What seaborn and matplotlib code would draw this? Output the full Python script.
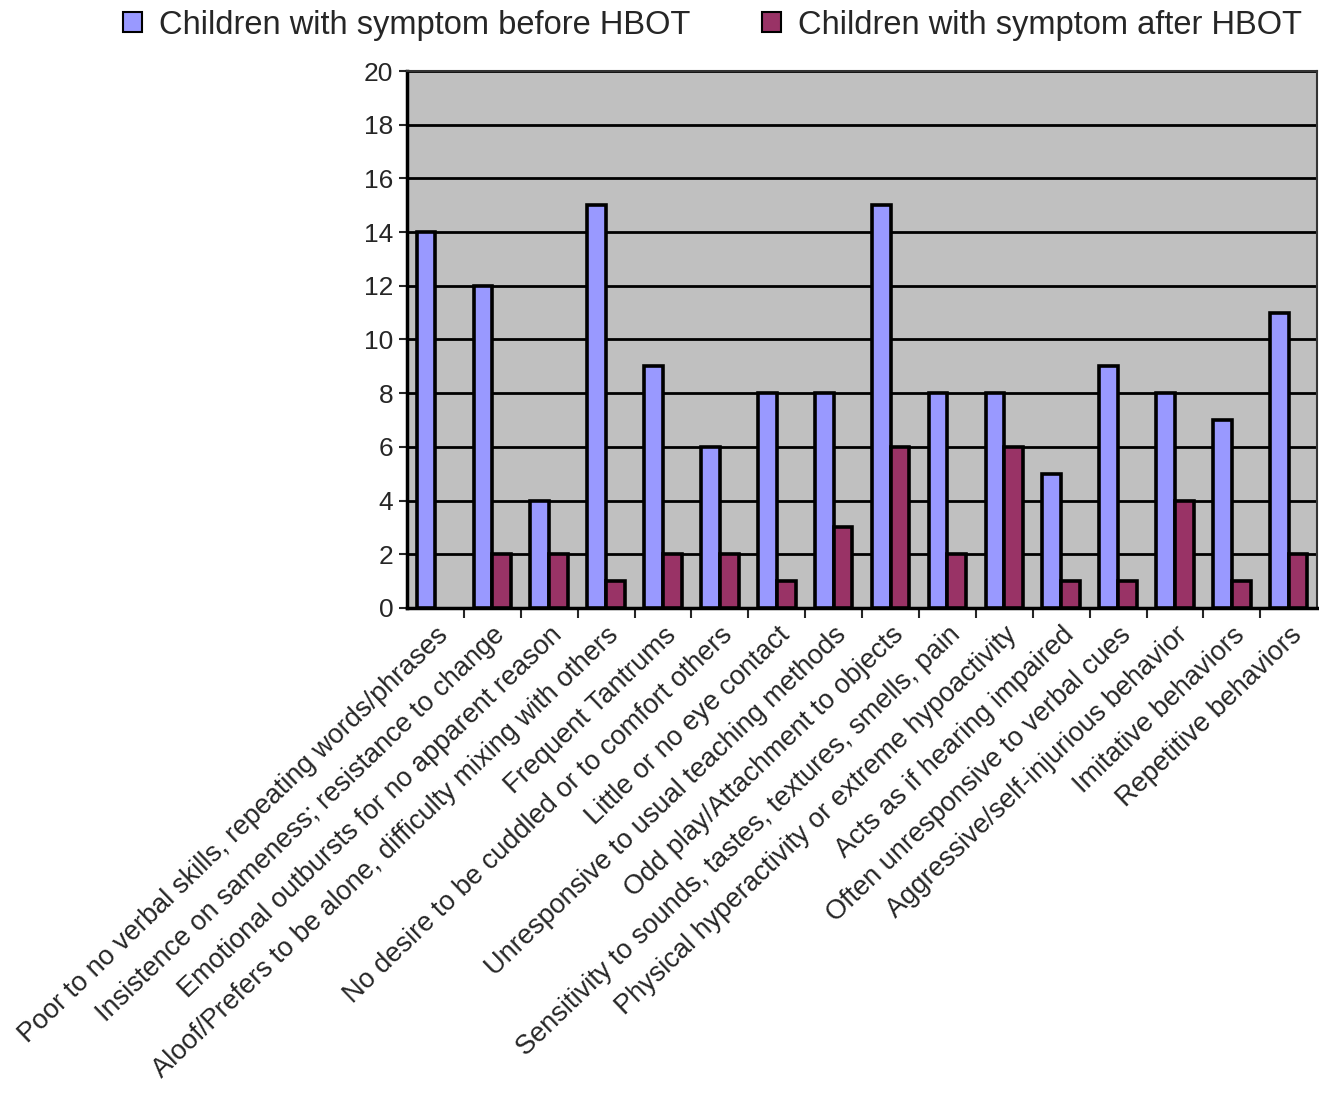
import numpy as np
import pandas as pd
import matplotlib
matplotlib.use("Agg")
import matplotlib.pyplot as plt
import seaborn as sns

# Data
symptoms = [
    "Poor to no verbal skills, repeating words/phrases",
    "Insistence on sameness; resistance to change",
    "Emotional outbursts for no apparent reason",
    "Aloof/Prefers to be alone, difficulty mixing with others",
    "Frequent Tantrums",
    "No desire to be cuddled or to comfort others",
    "Little or no eye contact",
    "Unresponsive to usual teaching methods",
    "Odd play/Attachment to objects",
    "Sensitivity to sounds, tastes, textures, smells, pain",
    "Physical hyperactivity or extreme hypoactivity",
    "Acts as if hearing impaired",
    "Often unresponsive to verbal cues",
    "Aggressive/self-injurious behavior",
    "Imitative behaviors",
    "Repetitive behaviors",
]
before_hbot = [14, 12, 4, 15, 9, 6, 8, 8, 15, 8, 8, 5, 9, 8, 7, 11]
after_hbot = [0, 2, 2, 1, 2, 2, 1, 3, 6, 2, 6, 1, 1, 4, 1, 2]
series_names = ["Children with symptom before HBOT", "Children with symptom after HBOT"]
palette = ["#9999FF", "#993366"]

df = pd.DataFrame({
    "symptom": symptoms * 2,
    "count": before_hbot + after_hbot,
    "series": [series_names[0]] * len(symptoms) + [series_names[1]] * len(symptoms),
})

sns.set_style("white")
plt.rcParams["font.family"] = ["Liberation Sans", "DejaVu Sans"]

fig = plt.figure(figsize=(13.19, 11.01), dpi=100)
ax = fig.add_axes([0.3086, 0.4478, 0.690, 0.4877])
ax.set_facecolor("#C0C0C0")

sns.barplot(data=df, x="symptom", y="count", hue="series", palette=palette,
            saturation=1, width=0.66, edgecolor="black", linewidth=2.6, ax=ax,
            legend=False, zorder=3)

# zero-height bars would still show an edge line; the original shows none
for patch in ax.patches:
    if patch.get_height() == 0:
        patch.set_visible(False)

ax.set_ylim(0, 20)
ax.set_xlim(-0.5, len(symptoms) - 0.5)
ax.set_yticks(np.arange(0, 21, 2))
ax.yaxis.grid(True, color="black", linewidth=2.0, zorder=0)
ax.set_axisbelow(True)
ax.set_xlabel("")
ax.set_ylabel("")

ax.tick_params(axis="y", labelsize=19, length=6, width=1.5, direction="out", left=True, pad=4)
ax.set_xticks(range(len(symptoms)))
ax.set_xticklabels(symptoms, rotation=44, ha="right", rotation_mode="anchor", fontsize=19.5)
ax.tick_params(axis="x", length=0, pad=10)
ax.set_xticks(np.arange(0.5, len(symptoms) - 0.5, 1), minor=True)
ax.tick_params(axis="x", which="minor", length=7, width=1.5, bottom=True)

for side in ax.spines.values():
    side.set_color("#333333")
    side.set_linewidth(1.5)
ax.spines["left"].set_color("black")
ax.spines["left"].set_linewidth(2.5)
ax.spines["bottom"].set_color("black")
ax.spines["bottom"].set_linewidth(2.5)

handles = [plt.Rectangle((0, 0), 1, 1, facecolor=c, edgecolor="black", linewidth=1.5)
           for c in palette]
fig.legend(handles, series_names, loc="upper center", bbox_to_anchor=(0.54, 1.018),
           ncol=2, frameon=False, fontsize=23.5, handlelength=0.6, handleheight=0.6,
           handletextpad=0.5, columnspacing=2.2)

fig.savefig("out.png", dpi=100, facecolor="white")
